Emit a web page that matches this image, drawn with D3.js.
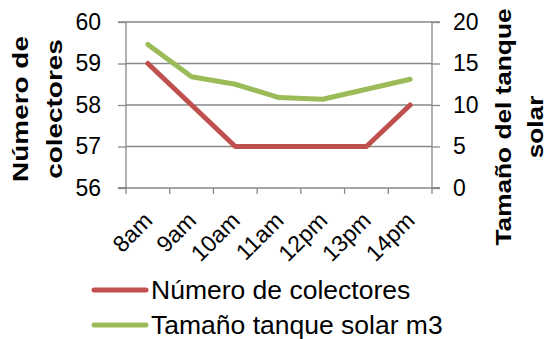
<!DOCTYPE html>
<html><head><meta charset="utf-8">
<script src="https://cdn.jsdelivr.net/npm/d3@7"></script>
<style>body{margin:0;background:#fff;}svg{display:block;font-family:"Liberation Sans",Arial,sans-serif;}</style>
</head><body>
<svg id="c" width="546" height="339"></svg>
<script>
const categories = ["8am","9am","10am","11am","12pm","13pm","14pm"];
const colectores = [59, 58, 57, 57, 57, 57, 58];
const tanque = [17.3, 13.4, 12.5, 10.9, 10.7, 11.9, 13.1];
const leftTicks = [56, 57, 58, 59, 60];
const rightTicks = [0, 5, 10, 15, 20];
const seriesNames = ["Número de colectores", "Tamaño tanque solar m3"];
const colors = ["#C0504D", "#9BBB59"];

const svg = d3.select("#c");
const L = 126, R = 432, T = 22, B = 188;
const x = d3.scaleBand().domain(categories).range([L, R]);
const yL = d3.scaleLinear().domain([56, 60]).range([B, T]);
const yR = d3.scaleLinear().domain([0, 20]).range([B, T]);
const grid = "#898989";
const FONT = "'Liberation Sans', Arial, sans-serif";

// gridlines
svg.append("g").selectAll("line").data(leftTicks.slice(1)).join("line")
  .attr("x1", L).attr("x2", R).attr("y1", d => yL(d)).attr("y2", d => yL(d))
  .attr("stroke", grid).attr("stroke-width", 1.3);

// left axis
const gl = svg.append("g").attr("transform", `translate(${L},0)`)
  .call(d3.axisLeft(yL).tickValues(leftTicks).tickSize(8).tickPadding(17).tickFormat(d3.format("d")));
// right axis
const gr = svg.append("g").attr("transform", `translate(${R},0)`)
  .call(d3.axisRight(yR).tickValues(rightTicks).tickSize(8).tickPadding(13).tickFormat(d3.format("d")));
// bottom axis
const bandTicks = categories.map((c, i) => L + i * x.step()).concat([R]);
const gb = svg.append("g");
gb.append("line").attr("x1", L - 8).attr("x2", R + 8).attr("y1", B).attr("y2", B).attr("stroke", grid).attr("stroke-width", 1.3);
gb.selectAll("line.t").data(bandTicks).join("line").attr("class","t")
  .attr("x1", d => d).attr("x2", d => d).attr("y1", B).attr("y2", B + 6).attr("stroke", grid).attr("stroke-width", 1.3);
gb.selectAll("text").data(categories).join("text")
  .attr("transform", d => `translate(${x(d) + x.bandwidth()/2 + 6},${B + 34}) rotate(-45)`)
  .attr("text-anchor", "end").attr("font-size", 23).attr("fill", "#000").attr("font-family", FONT).text(d => d);

[gl, gr].forEach(g => {
  g.select(".domain").attr("stroke", grid).attr("stroke-width", 1.3);
  g.selectAll(".tick line").attr("stroke", grid).attr("stroke-width", 1.3);
  g.selectAll(".tick text").attr("font-size", 23).attr("fill", "#000").attr("font-family", FONT);
});
gl.select(".domain").attr("d", `M-8,${T}H0V${B}H-8`);
gr.select(".domain").attr("d", `M8,${T}H0V${B}H8`);

// lines
const cx = d => x(d) + x.bandwidth() / 2;
svg.append("path").datum(tanque)
  .attr("d", d3.line().x((d, i) => cx(categories[i])).y(d => yR(d)))
  .attr("fill", "none").attr("stroke", colors[1]).attr("stroke-width", 5).attr("stroke-linejoin", "round").attr("stroke-linecap", "round");
svg.append("path").datum(colectores)
  .attr("d", d3.line().x((d, i) => cx(categories[i])).y(d => yL(d)))
  .attr("fill", "none").attr("stroke", colors[0]).attr("stroke-width", 5).attr("stroke-linejoin", "round").attr("stroke-linecap", "round");

// axis titles
const lt = svg.append("text").attr("transform", "translate(0,109) rotate(-90) scale(1.3,1)")
  .attr("text-anchor", "middle").attr("font-size", 21.5).attr("font-weight", "bold").attr("fill", "#000").attr("font-family", FONT);
lt.append("tspan").attr("x", 0).attr("y", 28.5).text("Número de");
lt.append("tspan").attr("x", 0).attr("y", 62).text("colectores");
const rt = svg.append("text").attr("transform", "translate(0,127) rotate(-90) scale(1.22,1)")
  .attr("text-anchor", "middle").attr("font-size", 21.5).attr("font-weight", "bold").attr("fill", "#000").attr("font-family", FONT);
rt.append("tspan").attr("x", 0).attr("y", 511).text("Tamaño del tanque");
rt.append("tspan").attr("x", 0).attr("y", 543).text("solar");

// legend
const lg = svg.append("g");
seriesNames.forEach((n, i) => {
  const y = 290 + i * 35;
  lg.append("line").attr("x1", 94).attr("x2", 146).attr("y1", y).attr("y2", y)
    .attr("stroke", colors[i]).attr("stroke-width", 5).attr("stroke-linecap", "round");
  lg.append("text").attr("x", 151).attr("y", y + 9).attr("font-size", 26.5).attr("fill", "#000").attr("font-family", FONT).text(n);
});
</script>
</body></html>
